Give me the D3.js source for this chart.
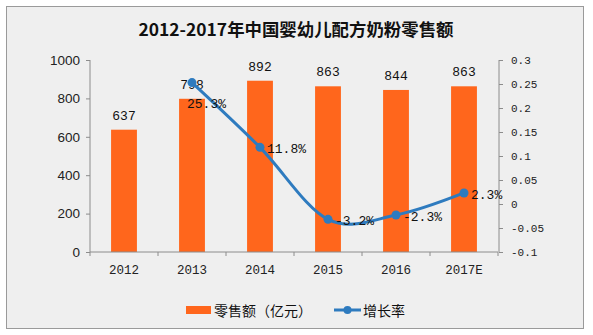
<!DOCTYPE html>
<html><head><meta charset="utf-8">
<script src="https://cdn.jsdelivr.net/npm/d3@7/dist/d3.min.js"></script>
<style>body{margin:0;background:#fff}svg{display:block}</style>
</head><body>
<svg id="c" width="593" height="335"></svg>
<script>
const categories = ["2012","2013","2014","2015","2016","2017E"];
const sales = [637, 798, 892, 863, 844, 863];
const growthCats = ["2013","2014","2015","2016","2017E"];
const growth = [0.253, 0.118, -0.032, -0.023, 0.023];
const growthLabels = ["25.3%","11.8%","-3.2%","-2.3%","2.3%"];
const leftTicks = [0,200,400,600,800,1000];
const rightTicks = [-0.1,-0.05,0,0.05,0.1,0.15,0.2,0.25,0.3];
const title = "2012-2017年中国婴幼儿配方奶粉零售额";
const legendNames = ["零售额（亿元）","增长率"];

const orange = "#ff661c", blue = "#2e7bbf", axisCol = "#8c8c8c";
const svg = d3.select("#c");
svg.append("rect").attr("x",6.5).attr("y",6.5).attr("width",577).attr("height",322)
  .attr("fill","#efefef").attr("stroke","#9a9a9a");

svg.append("text").attr("x",296).attr("y",36).attr("text-anchor","middle")
  .attr("font-family","'Noto Sans CJK SC'").attr("font-weight","bold").attr("font-size",17)
  .attr("textLength",315).attr("lengthAdjust","spacingAndGlyphs").attr("fill","#111").text(title);

const x = d3.scaleBand().domain(categories).range([90,498]).paddingInner(0.62).paddingOuter(0.31);
const yL = d3.scaleLinear().domain([0,1000]).range([252,60]);
const yR = d3.scaleLinear().domain([-0.1,0.3]).range([252,60]);

// bars
svg.append("g").selectAll("rect").data(sales).join("rect")
  .attr("x",(d,i)=>x(categories[i])).attr("width",x.bandwidth())
  .attr("y",d=>yL(d)).attr("height",d=>yL(0)-yL(d)).attr("fill",orange);

// axes
const gL = svg.append("g").attr("transform","translate(90,0)")
  .call(d3.axisLeft(yL).tickValues(leftTicks).tickSize(4).tickPadding(6).tickFormat(d3.format("d")));
gL.selectAll("text").attr("font-family","'Liberation Sans'").attr("font-size",13.5).attr("fill","#222");
const gR = svg.append("g").attr("transform","translate(499,0)")
  .call(d3.axisRight(yR).tickValues(rightTicks).tickSize(4).tickPadding(8).tickFormat(d=>String(+d.toFixed(2))));
gR.selectAll("text").attr("font-family","'Liberation Mono'").attr("font-size",11).attr("fill","#222");
const xTickScale = d3.scalePoint().domain(d3.range(categories.length+1)).range([90,498]);
const gB = svg.append("g").attr("transform","translate(0,252)");
gB.append("line").attr("x1",90).attr("x2",498).attr("stroke",axisCol);
gB.selectAll("line.t").data(d3.range(categories.length+1)).join("line").attr("class","t")
  .attr("x1",d=>xTickScale(d)).attr("x2",d=>xTickScale(d)).attr("y1",0).attr("y2",4).attr("stroke",axisCol);
gB.selectAll("text").data(categories).join("text")
  .attr("x",d=>x(d)+x.bandwidth()/2).attr("y",22).attr("text-anchor","middle")
  .attr("font-family","'Liberation Mono'").attr("font-size",12.5).attr("fill","#222").text(d=>d);
[gL,gR].forEach(g=>{g.select(".domain").attr("stroke",axisCol).attr("d", g===gL?"M0,60V252":"M0,60V252");
  g.selectAll(".tick line").attr("stroke",axisCol);});

// bar labels
svg.append("g").selectAll("text").data(sales).join("text")
  .attr("x",(d,i)=>x(categories[i])+x.bandwidth()/2).attr("y",d=>yL(d)-10).attr("text-anchor","middle")
  .attr("font-family","'Liberation Mono'").attr("font-size",13).attr("fill","#111").text(d=>d);

// line
const cx = c => x(c)+x.bandwidth()/2;
const pts = growth.map((v,i)=>[cx(growthCats[i]), yR(v)]);
svg.append("path").attr("d",d3.line().curve(d3.curveCardinal)(pts))
  .attr("fill","none").attr("stroke",blue).attr("stroke-width",3);
svg.append("g").selectAll("circle").data(pts).join("circle")
  .attr("cx",d=>d[0]).attr("cy",d=>d[1]).attr("r",4.5).attr("fill",blue);
svg.append("g").selectAll("text").data(pts).join("text")
  .attr("x",(d,i)=> i===0 ? d[0]-5 : d[0]+7)
  .attr("y",(d,i)=> i===0 ? d[1]+25 : d[1]+6)
  .attr("font-family","'Liberation Mono'").attr("font-size",13).attr("fill","#111")
  .text((d,i)=>growthLabels[i]);

// legend
const lg = svg.append("g");
lg.append("rect").attr("x",186).attr("y",306).attr("width",25).attr("height",8).attr("fill",orange);
lg.append("text").attr("x",214).attr("y",315.5).attr("font-family","'Noto Sans CJK SC'").attr("font-size",14).attr("fill","#111").text(legendNames[0]);
lg.append("line").attr("x1",334).attr("x2",361).attr("y1",310).attr("y2",310).attr("stroke",blue).attr("stroke-width",3);
lg.append("circle").attr("cx",347.5).attr("cy",310).attr("r",4).attr("fill",blue);
lg.append("text").attr("x",363).attr("y",315.5).attr("font-family","'Noto Sans CJK SC'").attr("font-size",14).attr("fill","#111").text(legendNames[1]);
</script>
</body></html>
